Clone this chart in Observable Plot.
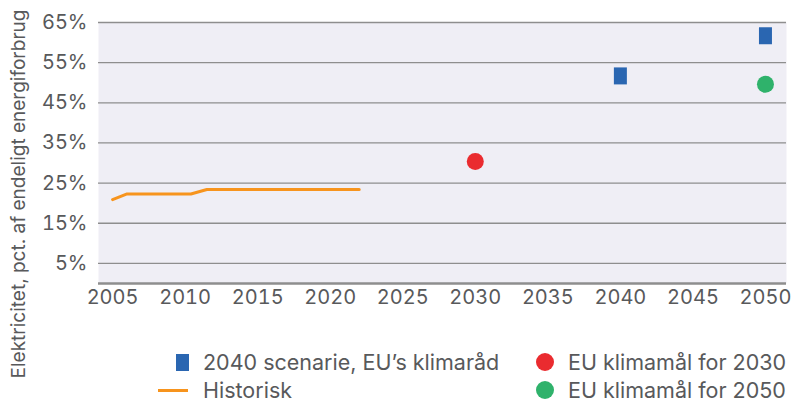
<!DOCTYPE html>
<html>
<head>
<meta charset="utf-8">
<script src="https://cdn.jsdelivr.net/npm/d3@7"></script>
<script src="https://cdn.jsdelivr.net/npm/@observablehq/plot@0.6"></script>
<style>
  html, body { margin: 0; padding: 0; background: #fff; }
  #wrap { position: relative; width: 792px; height: 403px; font-family: Inter, "Noto Sans", sans-serif; color: #58595b; }
  #ylab { position: absolute; left: 18px; top: 194px; transform: translate(-50%, -50%) rotate(-90deg); white-space: nowrap; font-size: 19px; line-height: 19px; color: #58595b; }
  .leg { position: absolute; font-size: 21.5px; white-space: nowrap; line-height: 18px; }
  .sw { position: absolute; }
</style>
</head>
<body>
<div id="wrap">
  <div id="chart"></div>
  <div id="ylab"></div>
  <div id="legend"></div>
</div>
<script>
// Data
const histYears = [2005, 2006, 2010.4, 2011.5, 2022];
const histValues = [20.9, 22.3, 22.3, 23.4, 23.4];
const scenarioYears = [2040, 2050];
const scenarioValues = [51.7, 61.7];
const goal2030Year = [2030];
const goal2030Value = [30.4];
const goal2050Year = [2050];
const goal2050Value = [49.6];
const xTicks = [2005, 2010, 2015, 2020, 2025, 2030, 2035, 2040, 2045, 2050];
const yTicks = [5, 15, 25, 35, 45, 55, 65];
const yTitle = "Elektricitet, pct. af endeligt energiforbrug";
const legendLabels = ["2040 scenarie, EU\u2019s klimaråd", "Historisk", "EU klimamål for 2030", "EU klimamål for 2050"];

const colors = { scenario: "#2a66b1", hist: "#f7941d", g2030: "#ea2b2f", g2050: "#2fb26b" };

const hist = histYears.map((x, i) => ({ x, y: histValues[i] }));
const scen = scenarioYears.map((x, i) => ({ x, y: scenarioValues[i] }));
const g30 = goal2030Year.map((x, i) => ({ x, y: goal2030Value[i] }));
const g50 = goal2050Year.map((x, i) => ({ x, y: goal2050Value[i] }));

const rectSymbol = {
  draw(ctx, size) {
    const w = 13, h = 17;
    ctx.rect(-w / 2, -h / 2, w, h);
  }
};

const chart = Plot.plot({
  width: 792,
  height: 318,
  marginLeft: 98,
  marginRight: 6,
  marginTop: 22,
  marginBottom: 35,
  style: { fontFamily: "Inter, 'Noto Sans', sans-serif", fontSize: "20px", color: "#58595b", background: "transparent" },
  x: { domain: [2004.03, 2051.45], ticks: xTicks, tickFormat: d => String(d), tickSize: 0, tickPadding: 6, label: null },
  y: { domain: [0, 65], ticks: yTicks, tickFormat: d => d + "%", tickSize: 0, tickPadding: 11, label: null },
  marks: [
    Plot.frame({ fill: "#efeef5", stroke: null }),
    Plot.ruleY(yTicks, { stroke: "#8e8e8e", strokeWidth: 1.3 }),
    Plot.ruleY([0], { stroke: "#8e8e8e", strokeWidth: 2.5 }),
    Plot.axisX({ ticks: xTicks, tickFormat: d => String(d), tickSize: 0, tickPadding: 6, fill: "#58595b" }),
    Plot.axisY({ ticks: yTicks, tickFormat: d => d + "%", tickSize: 0, tickPadding: 11, fill: "#58595b" }),
    Plot.line(hist, { x: "x", y: "y", stroke: colors.hist, strokeWidth: 3 }),
    Plot.dot(scen, { x: "x", y: "y", symbol: rectSymbol, fill: colors.scenario, stroke: null }),
    Plot.dot(g30, { x: "x", y: "y", r: 8.5, fill: colors.g2030, stroke: null }),
    Plot.dot(g50, { x: "x", y: "y", r: 8.5, fill: colors.g2050, stroke: null })
  ]
});
document.getElementById("chart").appendChild(chart);
document.getElementById("ylab").textContent = yTitle;

// Legend (HTML below the SVG)
const legend = document.getElementById("legend");
const items = [
  { label: legendLabels[0], kind: "rect", color: colors.scenario, sx: 176, ty: 362, tx: 203 },
  { label: legendLabels[1], kind: "line", color: colors.hist, sx: 158, ty: 390, tx: 203 },
  { label: legendLabels[2], kind: "circle", color: colors.g2030, sx: 536, ty: 362, tx: 568 },
  { label: legendLabels[3], kind: "circle", color: colors.g2050, sx: 536, ty: 390, tx: 568 }
];
items.forEach(it => {
  const sw = document.createElement("div");
  sw.className = "sw";
  if (it.kind === "rect") {
    Object.assign(sw.style, { left: it.sx + "px", top: (it.ty - 8.5) + "px", width: "13px", height: "17px", background: it.color });
  } else if (it.kind === "line") {
    Object.assign(sw.style, { left: it.sx + "px", top: (it.ty - 1.5) + "px", width: "30px", height: "3px", background: it.color });
  } else {
    Object.assign(sw.style, { left: it.sx + "px", top: (it.ty - 9) + "px", width: "18px", height: "18px", borderRadius: "50%", background: it.color });
  }
  legend.appendChild(sw);
  const t = document.createElement("div");
  t.className = "leg";
  t.textContent = it.label;
  Object.assign(t.style, { left: it.tx + "px", top: (it.ty - 9) + "px" });
  legend.appendChild(t);
});
</script>
</body>
</html>
